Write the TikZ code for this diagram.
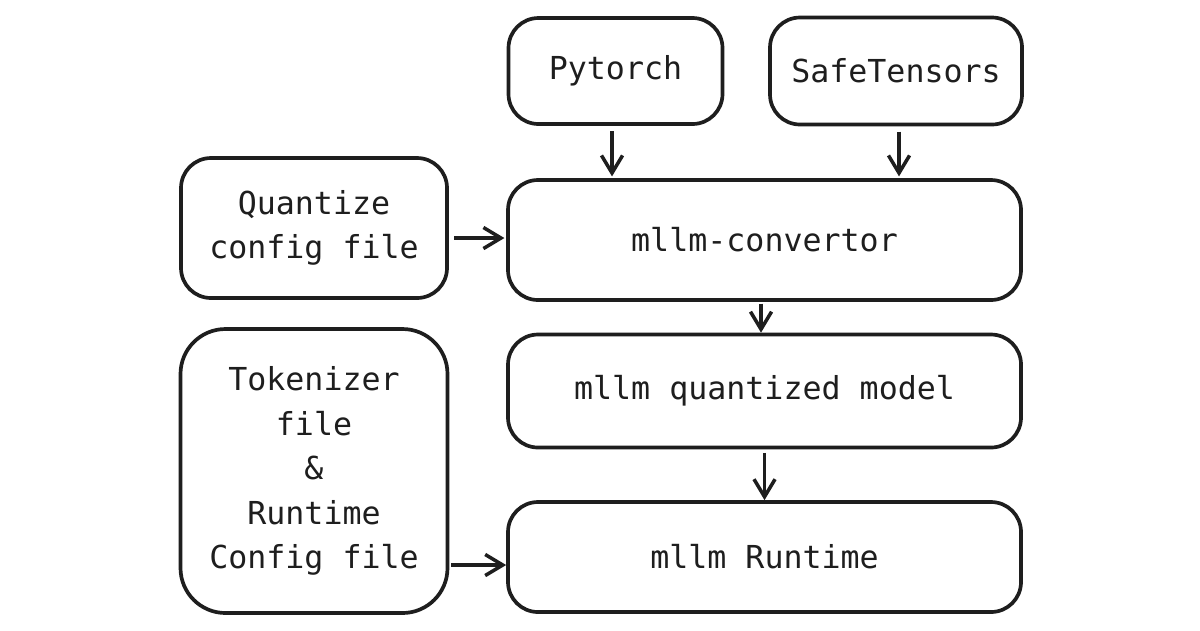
\documentclass[tikz,border=0pt]{standalone}
\usepackage{fontspec}
\setmonofont{DejaVu Sans Mono}
\usetikzlibrary{arrows.meta,calc}
\definecolor{ink}{HTML}{1E1E1E}
\tikzset{
  box/.style={draw=ink, line width=2.1pt, rounded corners=0.6cm, inner sep=0pt, align=center,
    text=ink, font=\ttfamily\fontsize{18}{25.3}\selectfont},
  conn/.style={draw=ink, line width=2pt, -{Straight Barb[length=10pt,width=12pt,line width=2pt]}}
}
\begin{document}
\begin{tikzpicture}
\useasboundingbox[fill=white] (0,0) rectangle (24,-12.6);
\node[box, minimum width=4.28cm, minimum height=2.12cm] (pyt) at (12.31,-1.42) {Pytorch};
\node[box, minimum width=5.04cm, minimum height=2.14cm] (safe) at (17.92,-1.42) {SafeTensors};
\node[box, minimum width=5.32cm, minimum height=2.80cm] (quant) at (6.28,-4.56) {Quantize\\config file};
\node[box, minimum width=10.26cm, minimum height=2.40cm] (conv) at (15.29,-4.80) {mllm-convertor};
\node[box, minimum width=10.26cm, minimum height=2.26cm] (qmodel) at (15.29,-7.82) {mllm quantized model};
\node[box, rounded corners=0.9cm, minimum width=5.34cm, minimum height=5.68cm] (tok) at (6.28,-9.42) {Tokenizer\\file\\\&\\Runtime\\Config file};
\node[box, minimum width=10.26cm, minimum height=2.20cm] (run) at (15.29,-11.14) {mllm Runtime};

\draw[conn, shorten <=3pt, shorten >=1pt] ($(pyt.south)+(-0.07,0)$) -- ($(pyt.south |- conv.north)+(-0.07,0)$);
\draw[conn, shorten <=3pt, shorten >=1pt] ($(safe.south)+(0.06,0)$) -- ($(safe.south |- conv.north)+(0.06,0)$);
\draw[conn, shorten <=3pt, shorten >=1pt] ($(conv.west -| quant.east)+(0,0.04)$) -- ($(conv.west)+(0,0.04)$);
\draw[conn, shorten <=1pt, shorten >=0pt] ($(conv.south)+(-0.07,0)$) -- ($(qmodel.north)+(-0.07,0)$);
\draw[conn, shorten <=2pt, shorten >=0pt] (qmodel.south) -- (run.north);
\draw[conn, shorten <=1pt, shorten >=0pt] ($(run.west -| tok.east)+(0,-0.16)$) -- ($(run.west)+(0,-0.16)$);
\end{tikzpicture}
\end{document}
